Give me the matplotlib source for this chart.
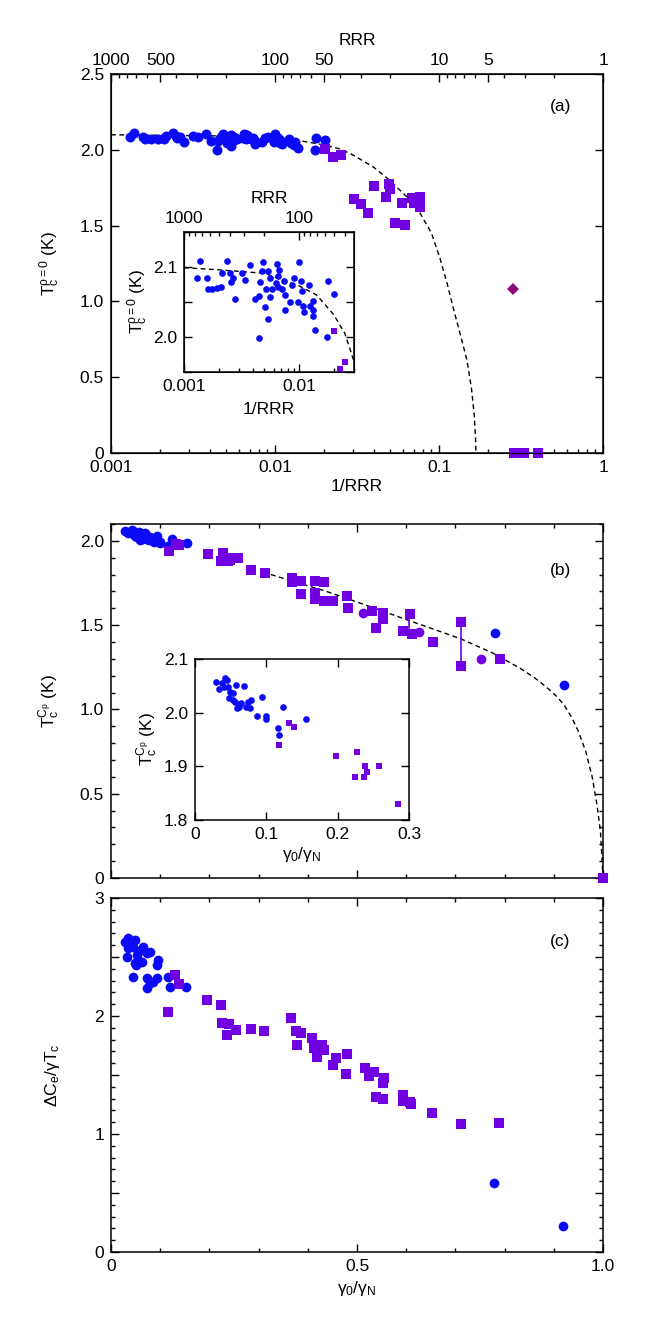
import numpy as np
import matplotlib
matplotlib.use('Agg')
import matplotlib.pyplot as plt
from matplotlib.ticker import MultipleLocator, FixedLocator, NullFormatter, FuncFormatter, LogLocator

plt.rcParams['font.family'] = ['Liberation Sans', 'DejaVu Sans']
plt.rcParams['mathtext.fontset'] = 'custom'
plt.rcParams['mathtext.rm'] = 'Liberation Sans'
plt.rcParams['mathtext.it'] = 'Liberation Sans'
plt.rcParams['mathtext.bf'] = 'Liberation Sans:bold'
plt.rcParams['mathtext.sf'] = 'Liberation Sans'
plt.rcParams['mathtext.fallback'] = 'cm'

BLUE = '#0A0AF5'
PURPLE = '#7000E2'
DIAMOND = '#8C0A78'

# ---------------- Panel (a): Tc(rho=0) vs 1/RRR ----------------
a_blue_x = [1.376e-3, 1.305e-3, 1.573e-3, 1.615e-3, 1.75e-3, 1.945e-3, 2.107e-3, 2.16e-3,
            2.375e-3, 2.505e-3, 2.64e-3, 2.54e-3, 2.77e-3, 3.18e-3, 3.38e-3, 3.78e-3,
            4.1e-3, 4.5e-3, 4.81e-3, 4.75e-3, 4.62e-3, 5.07e-3, 5.38e-3, 5.42e-3,
            5.57e-3, 5.14e-3, 5.64e-3, 5.87e-3, 6.44e-3, 6.71e-3, 6.62e-3, 6.36e-3,
            6.62e-3, 7.17e-3, 7.36e-3, 7.56e-3, 7.56e-3, 8.3e-3, 8.63e-3, 9.11e-3,
            0.0100, 9.87e-3, 0.0104, 0.0107, 0.0108, 0.0110, 0.0121, 0.0125,
            0.0132, 0.0131, 0.0131, 0.0138, 0.01773, 0.0202, 0.0175, 4.44e-3]
a_blue_y = [2.109, 2.084, 2.084, 2.069, 2.069, 2.070, 2.072, 2.091,
            2.108, 2.091, 2.085, 2.079, 2.054, 2.091, 2.082, 2.103,
            2.055, 2.059, 2.107, 2.094, 2.079, 2.043, 2.095, 2.026,
            2.057, 2.069, 2.084, 2.069, 2.105, 2.096, 2.087, 2.077,
            2.071, 2.069, 2.080, 2.060, 2.039, 2.050, 2.075, 2.085,
            2.107, 2.050, 2.080, 2.066, 2.045, 2.036, 2.074, 2.045,
            2.052, 2.038, 2.030, 2.010, 2.080, 2.062, 2.000, 1.998]
a_sq_x = [0.0203, 0.0226, 0.0252, 0.0303, 0.0335, 0.0371, 0.0401, 0.0498, 0.0503,
          0.0475, 0.054, 0.0624, 0.0592, 0.0682, 0.0705, 0.0766, 0.0768,
          0.285, 0.33, 0.40]
a_sq_y = [2.008, 1.955, 1.964, 1.673, 1.642, 1.581, 1.761, 1.774, 1.740,
          1.691, 1.515, 1.502, 1.651, 1.680, 1.651, 1.691, 1.625,
          0.0, 0.0, 0.0]
a_dia_x = [0.281]
a_dia_y = [1.08]
a_fit_x = [0.001, 0.002, 0.005, 0.01, 0.0142, 0.02, 0.025, 0.03, 0.04, 0.05, 0.065,
           0.0766, 0.09, 0.101, 0.112, 0.1217, 0.135, 0.148, 0.158, 0.164, 0.167, 0.168]
a_fit_y = [2.099, 2.096, 2.091, 2.073, 2.060, 2.032, 2.005, 1.965, 1.885, 1.80, 1.68,
           1.583, 1.45, 1.29, 1.12, 0.963, 0.78, 0.613, 0.42, 0.25, 0.10, 0.0]
rrr_major = [1000, 500, 100, 50, 10, 5, 1]
rrr_major_labels = ['1000', '500', '100', '50', '10', '5', '1']
rrr_inset_major = [1000, 100]
rrr_inset_labels = ['1000', '100']

# ---------------- Panel (b): Tc(Cp) vs gamma0/gammaN ----------------
b_blue_x = [0.0294, 0.034, 0.0378, 0.042, 0.0443, 0.0406, 0.0467, 0.049, 0.048, 0.0537,
            0.0574, 0.0527, 0.056, 0.059, 0.062, 0.065, 0.0686, 0.0714, 0.0747, 0.077,
            0.079, 0.087, 0.0933, 0.099, 0.099, 0.1167, 0.118, 0.1237, 0.155,
            0.780, 0.921]
b_blue_y = [2.057, 2.045, 2.055, 2.065, 2.060, 2.048, 2.048, 2.039, 2.028, 2.037,
            2.052, 2.023, 2.020, 2.008, 2.011, 2.018, 2.049, 2.011, 2.020, 2.008,
            2.023, 1.994, 2.029, 1.994, 1.989, 1.972, 1.959, 2.010, 1.989,
            1.452, 1.144]
b_sq_x = [0.118, 0.132, 0.139, 0.198, 0.227, 0.224, 0.237, 0.239, 0.241, 0.258, 0.285,
          0.312, 0.367, 0.367, 0.386, 0.386, 0.415, 0.415, 0.433, 0.415, 0.432, 0.452,
          0.479, 0.482, 0.530, 0.553, 0.553, 0.539, 0.608, 0.594, 0.611, 0.654,
          0.711, 0.711, 0.791, 1.0]
b_sq_y = [1.940, 1.980, 1.974, 1.920, 1.926, 1.880, 1.880, 1.900, 1.889, 1.900, 1.830,
          1.812, 1.782, 1.753, 1.763, 1.683, 1.763, 1.690, 1.753, 1.654, 1.644, 1.644,
          1.674, 1.604, 1.585, 1.575, 1.535, 1.486, 1.565, 1.466, 1.446, 1.400,
          1.516, 1.255, 1.302, 0.0]
b_pc_x = [0.513, 0.627, 0.752]
b_pc_y = [1.575, 1.460, 1.302]
b_err_x = [0.711, 0.606]
b_err_lo = [1.255, 1.470]
b_err_hi = [1.516, 1.559]
b_fit_x = [0.325, 0.435, 0.513, 0.608, 0.71, 0.777, 0.831, 0.86, 0.886, 0.905, 0.92,
           0.935, 0.95, 0.965, 0.978, 0.988, 0.995, 1.0]
b_fit_y = [1.800, 1.703, 1.624, 1.525, 1.42, 1.333, 1.245, 1.19, 1.13, 1.08, 1.03,
           0.96, 0.87, 0.75, 0.60, 0.43, 0.27, 0.0]

# ---------------- Panel (c): dCe/gammaTc vs gamma0/gammaN ----------------
c_blue_x = [0.0285, 0.0352, 0.0488, 0.0352, 0.0454, 0.0657, 0.0319, 0.052, 0.0725, 0.079,
            0.0488, 0.059, 0.096, 0.0928, 0.044, 0.0725, 0.0928, 0.079, 0.0738, 0.1165,
            0.12, 0.152, 0.086, 0.0407, 0.062, 0.050, 0.0385, 0.060,
            0.779, 0.919]
c_blue_y = [2.630, 2.658, 2.644, 2.573, 2.587, 2.587, 2.503, 2.517, 2.530, 2.545,
            2.446, 2.460, 2.474, 2.432, 2.333, 2.319, 2.319, 2.277, 2.234, 2.333,
            2.248, 2.248, 2.290, 2.593, 2.460, 2.432, 2.620, 2.560,
            0.588, 0.223]
c_sq_x = [0.130, 0.138, 0.115, 0.196, 0.223, 0.226, 0.240, 0.235, 0.255, 0.284, 0.310,
          0.366, 0.375, 0.386, 0.378, 0.408, 0.413, 0.428, 0.432, 0.419, 0.457, 0.480,
          0.4505, 0.478, 0.516, 0.525, 0.535, 0.555, 0.552, 0.539, 0.552, 0.593,
          0.593, 0.608, 0.610, 0.653, 0.711, 0.789]
c_sq_y = [2.347, 2.271, 2.037, 2.136, 2.093, 1.938, 1.932, 1.839, 1.881, 1.887, 1.876,
          1.980, 1.876, 1.859, 1.757, 1.811, 1.726, 1.757, 1.709, 1.653, 1.640, 1.680,
          1.585, 1.508, 1.562, 1.492, 1.528, 1.472, 1.435, 1.316, 1.294, 1.331,
          1.280, 1.274, 1.254, 1.181, 1.082, 1.090]

FS = 12.5
W, H = 664, 1336
fig = plt.figure(figsize=(W / 100, H / 100), dpi=100)


def rect(l, t, r, b):
    return [l / W, 1 - b / H, (r - l) / W, (b - t) / H]


def style(ax, top=True, right=True):
    ax.tick_params(which='both', direction='in', top=top, right=right,
                   labelsize=FS, width=1.0, pad=5)
    ax.tick_params(which='major', length=5.5)
    ax.tick_params(which='minor', length=3)
    for s in ax.spines.values():
        s.set_linewidth(1.1)


def numfmt(v, p):
    if abs(v) < 1e-9:
        return '0'
    return f'{v:.1f}'


def logfmt(v, p):
    return f'{v:g}'


def add_rrr_top(ax, majors, labels, fs):
    top = ax.twiny()
    top.set_xscale('log')
    top.set_xlim(ax.get_xlim())
    lo, hi = ax.get_xlim()
    top.xaxis.set_major_locator(FixedLocator([1.0 / r for r in majors]))
    top.xaxis.set_major_formatter(FuncFormatter(
        lambda v, p: labels[int(np.argmin([abs(v - 1.0 / r) for r in majors]))]))
    mins = [m * d for d in (1, 10, 100) for m in (2, 3, 4, 5, 6, 7, 8, 9)]
    mins = [1.0 / r for r in mins if r not in majors and lo * 0.999 <= 1.0 / r <= hi * 1.001]
    top.xaxis.set_minor_locator(FixedLocator(mins))
    top.xaxis.set_minor_formatter(NullFormatter())
    top.tick_params(axis='x', which='both', direction='in', labelsize=fs, width=1.0, pad=4)
    top.tick_params(axis='x', which='major', length=5.5)
    top.tick_params(axis='x', which='minor', length=3)
    top.set_xlabel('RRR', fontsize=fs, labelpad=6)
    return top


YLAB_X = -0.10

# ===== Panel (a) =====
axA = fig.add_axes(rect(111, 74, 603, 453))
axA.plot(a_fit_x, a_fit_y, color='black', lw=1.0, ls=(0, (3.5, 2.5)), zorder=1)
axA.plot(a_blue_x, a_blue_y, 'o', color=BLUE, ms=7.2, mew=0, zorder=3)
axA.plot(a_sq_x, a_sq_y, 's', color=PURPLE, ms=6.8, mew=0, zorder=3, clip_on=False)
axA.plot(a_dia_x, a_dia_y, 'D', color=DIAMOND, ms=6.5, mew=0, zorder=3)
axA.set_xscale('log')
axA.set_xlim(0.001, 1)
axA.set_ylim(0, 2.5)
style(axA, top=False)
axA.xaxis.set_major_formatter(FuncFormatter(logfmt))
axA.xaxis.set_minor_locator(LogLocator(subs=np.arange(2, 10)))
axA.xaxis.set_minor_formatter(NullFormatter())
axA.yaxis.set_major_locator(MultipleLocator(0.5))
axA.yaxis.set_major_formatter(FuncFormatter(numfmt))
axA.set_xlabel('1/RRR', fontsize=FS, labelpad=3)
axA.set_ylabel(r'T$_\mathrm{c}^{\rho=0}$ (K)', fontsize=FS)
axA.yaxis.set_label_coords(YLAB_X, 0.5)
axA.text(0.913, 0.913, '(a)', transform=axA.transAxes, fontsize=FS, ha='center', va='center')
add_rrr_top(axA, rrr_major, rrr_major_labels, FS)

# ===== Inset (a) =====
axAi = fig.add_axes(rect(184, 232, 354, 372))
axAi.plot(a_fit_x, a_fit_y, color='black', lw=1.0, ls=(0, (3.5, 2.5)), zorder=1)
axAi.plot(a_blue_x, a_blue_y, 'o', color=BLUE, ms=4.8, mew=0, zorder=3)
ins_sq = [(x, y) for x, y in zip(a_sq_x, a_sq_y) if x <= 0.03 and y >= 1.94]
axAi.plot([p[0] for p in ins_sq], [p[1] for p in ins_sq], 's', color=PURPLE, ms=5,
          mew=0, zorder=3, clip_on=False)
axAi.set_xscale('log')
axAi.set_xlim(0.001, 0.03)
axAi.set_ylim(1.95, 2.15)
style(axAi, top=False)
axAi.xaxis.set_major_formatter(FuncFormatter(logfmt))
axAi.xaxis.set_minor_locator(LogLocator(subs=np.arange(2, 10)))
axAi.xaxis.set_minor_formatter(NullFormatter())
axAi.yaxis.set_major_locator(MultipleLocator(0.1))
axAi.yaxis.set_minor_locator(MultipleLocator(0.05))
axAi.yaxis.set_major_formatter(FuncFormatter(numfmt))
axAi.tick_params(axis='y', which='minor', length=5.5)
axAi.set_xlabel('1/RRR', fontsize=FS, labelpad=6)
axAi.set_ylabel(r'T$_\mathrm{c}^{\rho=0}$ (K)', fontsize=FS, labelpad=2)
add_rrr_top(axAi, rrr_inset_major, rrr_inset_labels, FS)

# ===== Panel (b) =====
axB = fig.add_axes(rect(111, 524, 603, 878))
axB.plot(b_fit_x, b_fit_y, color='black', lw=1.0, ls=(0, (3.5, 2.5)), zorder=1)
axB.vlines(b_err_x, b_err_lo, b_err_hi, color=PURPLE, lw=1.2, zorder=2)
axB.plot(b_blue_x, b_blue_y, 'o', color=BLUE, ms=7, mew=0, zorder=3)
axB.plot(b_sq_x, b_sq_y, 's', color=PURPLE, ms=7, mew=0, zorder=3, clip_on=False)
axB.plot(b_pc_x, b_pc_y, 'o', color=PURPLE, ms=7, mew=0, zorder=3)
axB.set_xlim(0, 1)
axB.set_ylim(0, 2.1)
style(axB)
axB.xaxis.set_major_locator(MultipleLocator(0.5))
axB.xaxis.set_minor_locator(MultipleLocator(0.1))
axB.xaxis.set_major_formatter(NullFormatter())
axB.yaxis.set_major_locator(MultipleLocator(0.5))
axB.yaxis.set_minor_locator(MultipleLocator(0.1))
axB.yaxis.set_major_formatter(FuncFormatter(numfmt))
axB.set_ylabel(r'T$_\mathrm{c}^{C_\mathrm{p}}$ (K)', fontsize=FS)
axB.yaxis.set_label_coords(YLAB_X, 0.5)
axB.text(0.913, 0.870, '(b)', transform=axB.transAxes, fontsize=FS, ha='center', va='center')

# ===== Inset (b) =====
axBi = fig.add_axes(rect(195, 659, 409, 820))
axBi.plot(b_blue_x, b_blue_y, 'o', color=BLUE, ms=4.8, mew=0, zorder=3)
axBi.plot(b_sq_x, b_sq_y, 's', color=PURPLE, ms=4.8, mew=0, zorder=3)
axBi.set_xlim(0, 0.3)
axBi.set_ylim(1.8, 2.1)
style(axBi)
axBi.xaxis.set_major_locator(MultipleLocator(0.1))
axBi.xaxis.set_major_formatter(FuncFormatter(numfmt))
axBi.yaxis.set_major_locator(MultipleLocator(0.1))
axBi.yaxis.set_major_formatter(FuncFormatter(numfmt))
axBi.set_xlabel(r'$\gamma_0/\gamma_\mathrm{N}$', fontsize=FS, labelpad=2)
axBi.set_ylabel(r'T$_\mathrm{c}^{C_\mathrm{p}}$ (K)', fontsize=FS, labelpad=3)

# ===== Panel (c) =====
axC = fig.add_axes(rect(111, 898, 603, 1252))
axC.plot(c_blue_x, c_blue_y, 'o', color=BLUE, ms=7, mew=0, zorder=3)
axC.plot(c_sq_x, c_sq_y, 's', color=PURPLE, ms=7, mew=0, zorder=3)
axC.set_xlim(0, 1)
axC.set_ylim(0, 3)
style(axC)
axC.xaxis.set_major_locator(MultipleLocator(0.5))
axC.xaxis.set_minor_locator(MultipleLocator(0.1))
axC.xaxis.set_major_formatter(FuncFormatter(numfmt))
axC.yaxis.set_major_locator(MultipleLocator(0.5))
axC.yaxis.set_minor_locator(MultipleLocator(0.1))
axC.yaxis.set_major_formatter(FuncFormatter(
    lambda v, p: f'{int(round(v))}' if abs(v - round(v)) < 1e-6 else ''))
axC.set_xlabel(r'$\gamma_0/\gamma_\mathrm{N}$', fontsize=FS, labelpad=4)
axC.set_ylabel(r'$\Delta$C$_\mathrm{e}$/$\gamma$T$_\mathrm{c}$', fontsize=FS)
axC.yaxis.set_label_coords(YLAB_X, 0.5)
axC.text(0.913, 0.876, '(c)', transform=axC.transAxes, fontsize=FS, ha='center', va='center')

fig.savefig('out.png', dpi=100)
